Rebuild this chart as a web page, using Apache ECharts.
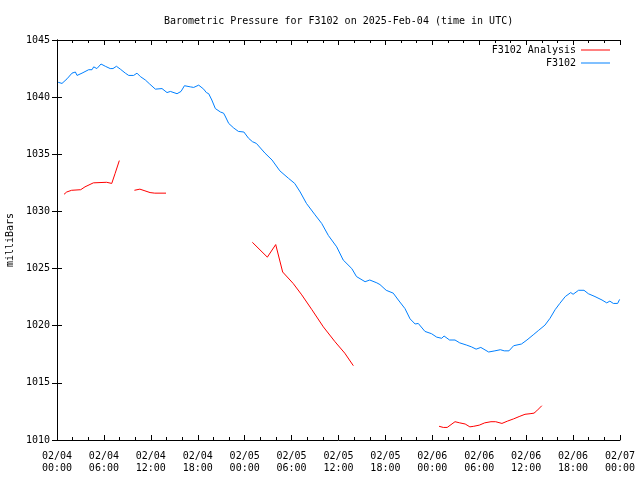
<!DOCTYPE html>
<html>
<head>
<meta charset="utf-8">
<script src="https://cdn.jsdelivr.net/npm/echarts@6/dist/echarts.min.js"></script>
<style>html,body{margin:0;padding:0;background:#fff}#c{width:640px;height:480px}</style>
</head>
<body>
<div id="c"></div>
<script>
// hours since 2025-02-04 00:00 UTC
var xTickLabels = ["02/04\n00:00","02/04\n06:00","02/04\n12:00","02/04\n18:00","02/05\n00:00","02/05\n06:00","02/05\n12:00","02/05\n18:00","02/06\n00:00","02/06\n06:00","02/06\n12:00","02/06\n18:00","02/07\n00:00"];

var obsTimes = [0.15,0.35,0.64,1.28,1.92,2.35,2.56,3.2,4.05,4.48,4.69,5.1,5.63,6.18,6.8,7.16,7.6,8.1,8.74,9.17,9.8,10.23,10.66,11.3,11.85,12.58,13.43,14.07,14.5,15.35,15.86,16.3,17.05,17.48,18.12,18.76,19.1,19.4,19.8,20.25,20.9,21.3,21.5,21.96,22.6,23.2,23.9,24.5,25.0,25.5,26.6,27.5,28.5,29.6,30.4,31.1,31.9,33.0,33.85,34.7,35.77,36.6,37.7,38.3,39.4,40.0,40.9,41.3,42.1,43.0,43.65,44.5,45.15,45.8,46.2,47.06,47.9,48.56,49.2,49.5,50.2,50.9,51.5,52.4,53.0,53.6,54.2,55.2,56.0,56.7,57.2,57.8,58.4,59.4,60.1,60.9,61.6,62.4,63.05,63.7,64.3,65.0,65.7,66.0,66.7,67.4,67.95,68.8,69.7,70.3,70.7,71.15,71.7,71.95];
var obsValues = [1041.3,1041.35,1041.2,1041.6,1042.1,1042.2,1041.9,1042.1,1042.4,1042.4,1042.65,1042.5,1042.9,1042.7,1042.5,1042.5,1042.7,1042.45,1042.1,1041.9,1041.9,1042.1,1041.8,1041.5,1041.15,1040.7,1040.75,1040.4,1040.5,1040.3,1040.5,1041.0,1040.9,1040.85,1041.05,1040.7,1040.4,1040.3,1039.75,1039.0,1038.7,1038.6,1038.35,1037.7,1037.3,1037.0,1036.95,1036.4,1036.1,1035.95,1035.1,1034.5,1033.55,1032.9,1032.45,1031.7,1030.7,1029.7,1028.95,1027.9,1026.9,1025.75,1025.0,1024.3,1023.85,1024.0,1023.75,1023.6,1023.1,1022.85,1022.25,1021.5,1020.6,1020.15,1020.2,1019.5,1019.3,1019.0,1018.9,1019.1,1018.75,1018.75,1018.5,1018.3,1018.15,1017.95,1018.1,1017.7,1017.8,1017.9,1017.8,1017.8,1018.25,1018.4,1018.75,1019.2,1019.6,1020.05,1020.65,1021.4,1021.95,1022.55,1022.9,1022.75,1023.1,1023.1,1022.8,1022.55,1022.25,1022.0,1022.15,1021.95,1021.95,1022.3];

var anaTimes1 = [0.9,1.24,1.87,3.03,3.58,4.65,6.35,7.0,7.42,7.97];
var anaValues1 = [1031.5,1031.7,1031.85,1031.9,1032.15,1032.5,1032.55,1032.45,1033.3,1034.45];
var anaTimes2 = [9.9,10.6,11.25,11.9,12.5,13.94];
var anaValues2 = [1031.85,1031.95,1031.8,1031.65,1031.6,1031.6];
var anaTimes3 = [24.98,26.9,27.97,28.86,30.2,31.3,32.6,34.06,35.55,36.8,37.9];
var anaValues3 = [1027.3,1026.0,1027.1,1024.7,1023.7,1022.7,1021.4,1019.9,1018.6,1017.6,1016.5];
var anaTimes4 = [48.86,49.4,49.9,50.9,51.5,52.2,52.8,53.3,54.0,54.7,55.5,56.1,56.9,57.6,58.4,59.1,59.85,60.5,61.0,61.35,62.0];
var anaValues4 = [1011.2,1011.1,1011.1,1011.6,1011.5,1011.4,1011.15,1011.2,1011.3,1011.5,1011.6,1011.6,1011.45,1011.65,1011.85,1012.05,1012.25,1012.3,1012.35,1012.55,1013.0];

function pairs(ts, vs){ return ts.map(function(t,i){ return [t, vs[i]]; }); }
var anaData = [].concat(
  pairs(anaTimes1, anaValues1), [[8.5, null]],
  pairs(anaTimes2, anaValues2), [[20, null]],
  pairs(anaTimes3, anaValues3), [[44, null]],
  pairs(anaTimes4, anaValues4)
);
var obsData = pairs(obsTimes, obsValues);

var FONT = 'DejaVu Sans Mono';
var txt = {fontFamily: FONT, fontSize: 10, color: '#000'};

var xCommon = {
  type: 'value', min: 0, max: 72, interval: 6,
  axisLine: {show: true, lineStyle: {color: '#000', width: 1}},
  axisTick: {show: true, inside: true, length: 5, lineStyle: {color: '#000'}},
  minorTick: {show: true, splitNumber: 3, length: 3, lineStyle: {color: '#000'}},
  splitLine: {show: false}, minorSplitLine: {show: false}
};
var yCommon = {
  type: 'value', min: 1010, max: 1045, interval: 5,
  axisLine: {show: true, lineStyle: {color: '#000', width: 1}},
  axisTick: {show: true, inside: true, length: 5, lineStyle: {color: '#000'}},
  splitLine: {show: false}
};

var chart = echarts.init(document.getElementById('c'), null, {renderer: 'canvas'});
chart.setOption({
  animation: false,
  backgroundColor: '#fff',
  graphic: [{
    type: 'text', left: 338 - 174, top: 16,
    style: {text: 'Barometric Pressure for F3102 on 2025-Feb-04 (time in UTC)', font: '10px "DejaVu Sans Mono"', fill: '#000'}
  }],
  grid: {left: 57, right: 20, top: 40, bottom: 40, containLabel: false, outerBoundsMode: 'none'},
  legend: {
    orient: 'vertical', right: 25, top: 39, align: 'right',
    itemWidth: 29, itemHeight: 1, itemGap: 1, icon: 'rect',
    textStyle: {fontFamily: FONT, fontSize: 10, color: '#000', lineHeight: 12},
    data: ['F3102 Analysis', 'F3102']
  },
  xAxis: [
    Object.assign({}, xCommon, {position: 'bottom',
      axisLabel: Object.assign({}, txt, {margin: 10, lineHeight: 12, showMinLabel: true, showMaxLabel: true,
        formatter: function(v){ return xTickLabels[Math.round(v/6)]; }})}),
    Object.assign({}, xCommon, {position: 'top', axisLabel: {show: false}})
  ],
  yAxis: [
    Object.assign({}, yCommon, {position: 'left',
      name: 'milliBars', nameLocation: 'middle', nameGap: 38, nameRotate: 90,
      nameTextStyle: txt,
      axisLabel: Object.assign({}, txt, {margin: 7, formatter: function(v){ return String(v); }})}),
    Object.assign({}, yCommon, {position: 'right', axisLabel: {show: false}})
  ],
  series: [
    {name: 'F3102 Analysis', type: 'line', xAxisIndex: 0, yAxisIndex: 0, data: anaData,
     showSymbol: false, symbol: 'none', connectNulls: false,
     lineStyle: {color: '#ff0000', width: 1}, itemStyle: {color: '#ff0000'}},
    {name: 'F3102', type: 'line', xAxisIndex: 0, yAxisIndex: 0, data: obsData,
     showSymbol: false, symbol: 'none',
     lineStyle: {color: '#0080ff', width: 1}, itemStyle: {color: '#0080ff'}}
  ]
});
</script>
</body>
</html>
